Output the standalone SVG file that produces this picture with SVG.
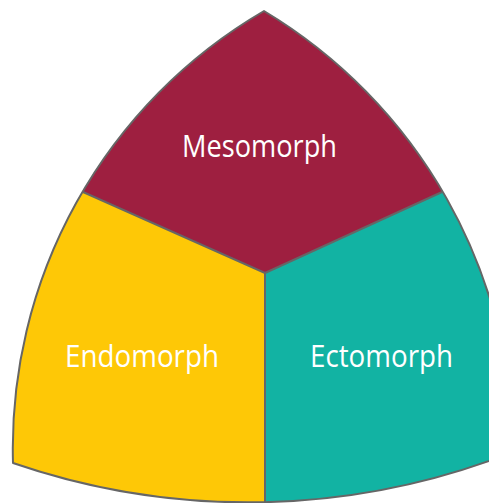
<svg xmlns="http://www.w3.org/2000/svg" width="489" height="503" viewBox="0 0 489 503">
  <style>
    .label { font-family: "Open Sans", "Liberation Sans", sans-serif; font-size: 31px; fill: #ffffff; text-anchor: middle; }
    .edge { fill: none; stroke: #666666; stroke-width: 2; stroke-linejoin: round; }
  </style>
  <defs>
    <!-- rounded triangle outline: left arc, bottom arc, right arc -->
    <path id="outline" d="M264,11 A506,506 0 0 0 13,463 A722,722 0 0 0 513,452 A513,513 0 0 0 264,11 Z"/>
    <clipPath id="shape">
      <use href="#outline"/>
    </clipPath>
  </defs>
  <rect width="489" height="503" fill="#ffffff"/>
  <g clip-path="url(#shape)">
    <g id="mesomorph">
      <polygon points="264,-20 -20,-20 -20,160 83,192 265,273 442,192 540,150 540,-20" fill="#9e1f40"/>
    </g>
    <g id="endomorph">
      <polygon points="-20,160 83,192 265,273 265,540 -20,540" fill="#fec806"/>
    </g>
    <g id="ectomorph">
      <polygon points="540,150 442,192 265,273 265,540 540,540" fill="#12b3a3"/>
    </g>
    <g id="connectors">
      <polyline class="edge" points="83,192 265,273 442,192"/>
      <line class="edge" x1="265" y1="273" x2="265" y2="540"/>
    </g>
  </g>
  <use href="#outline" class="edge"/>
  <text class="label" x="259.5" y="157" textLength="155" lengthAdjust="spacingAndGlyphs">Mesomorph</text>
  <text class="label" x="142" y="367" textLength="154" lengthAdjust="spacingAndGlyphs">Endomorph</text>
  <text class="label" x="381.5" y="367" textLength="143" lengthAdjust="spacingAndGlyphs">Ectomorph</text>
</svg>
